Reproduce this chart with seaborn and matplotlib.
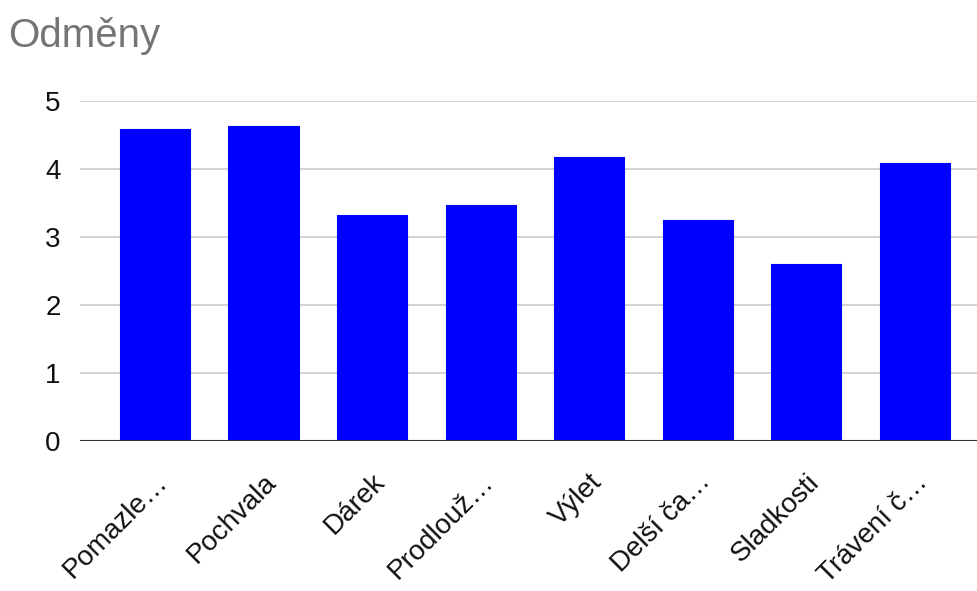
import matplotlib
matplotlib.use("Agg")
import matplotlib.pyplot as plt
import seaborn as sns
import pandas as pd

categories = ["Pomazle…", "Pochvala", "Dárek", "Prodlouž…", "Výlet", "Delší ča…", "Sladkosti", "Trávení č…"]
values = [4.59, 4.63, 3.32, 3.47, 4.17, 3.25, 2.60, 4.09]
yticks = [0, 1, 2, 3, 4, 5]

sns.set_style("white")
plt.rcParams["font.family"] = ["Liberation Sans", "DejaVu Sans"]

df = pd.DataFrame({"cat": categories, "val": values})

fig = plt.figure(figsize=(9.78, 5.91), dpi=100)
ax = fig.add_axes([80/978, 1 - 441/591, (978-80)/978, (441-101)/591])

sns.barplot(data=df, x="cat", y="val", color="#0000ff", saturation=1, width=0.645, ax=ax, zorder=3)
for p in ax.patches:
    p.set_edgecolor("#0000ff")
    p.set_linewidth(0.8)
    p.set_joinstyle("round")

ax.set_xlim(-0.69, 7.58)
ax.set_ylim(0, 5)
ax.set_yticks(yticks)
ax.yaxis.grid(True, color="#cccccc", linewidth=1.2, zorder=0)
ax.axhline(0, color="#333333", linewidth=1.5, zorder=4)
for s in ax.spines.values():
    s.set_visible(False)
ax.set_xlabel("")
ax.set_ylabel("")
ax.tick_params(axis="y", length=0, pad=14, labelsize=20, labelcolor="#111111")
ax.tick_params(axis="x", length=0, pad=20, labelsize=20, labelcolor="#111111")
plt.setp(ax.get_xticklabels(), rotation=45, ha="right", rotation_mode="anchor")

fig.text(8/978, 1 - 47/591, "Odměny", fontsize=29, color="#757575", ha="left", va="baseline")

fig.savefig("out.png", dpi=100)
